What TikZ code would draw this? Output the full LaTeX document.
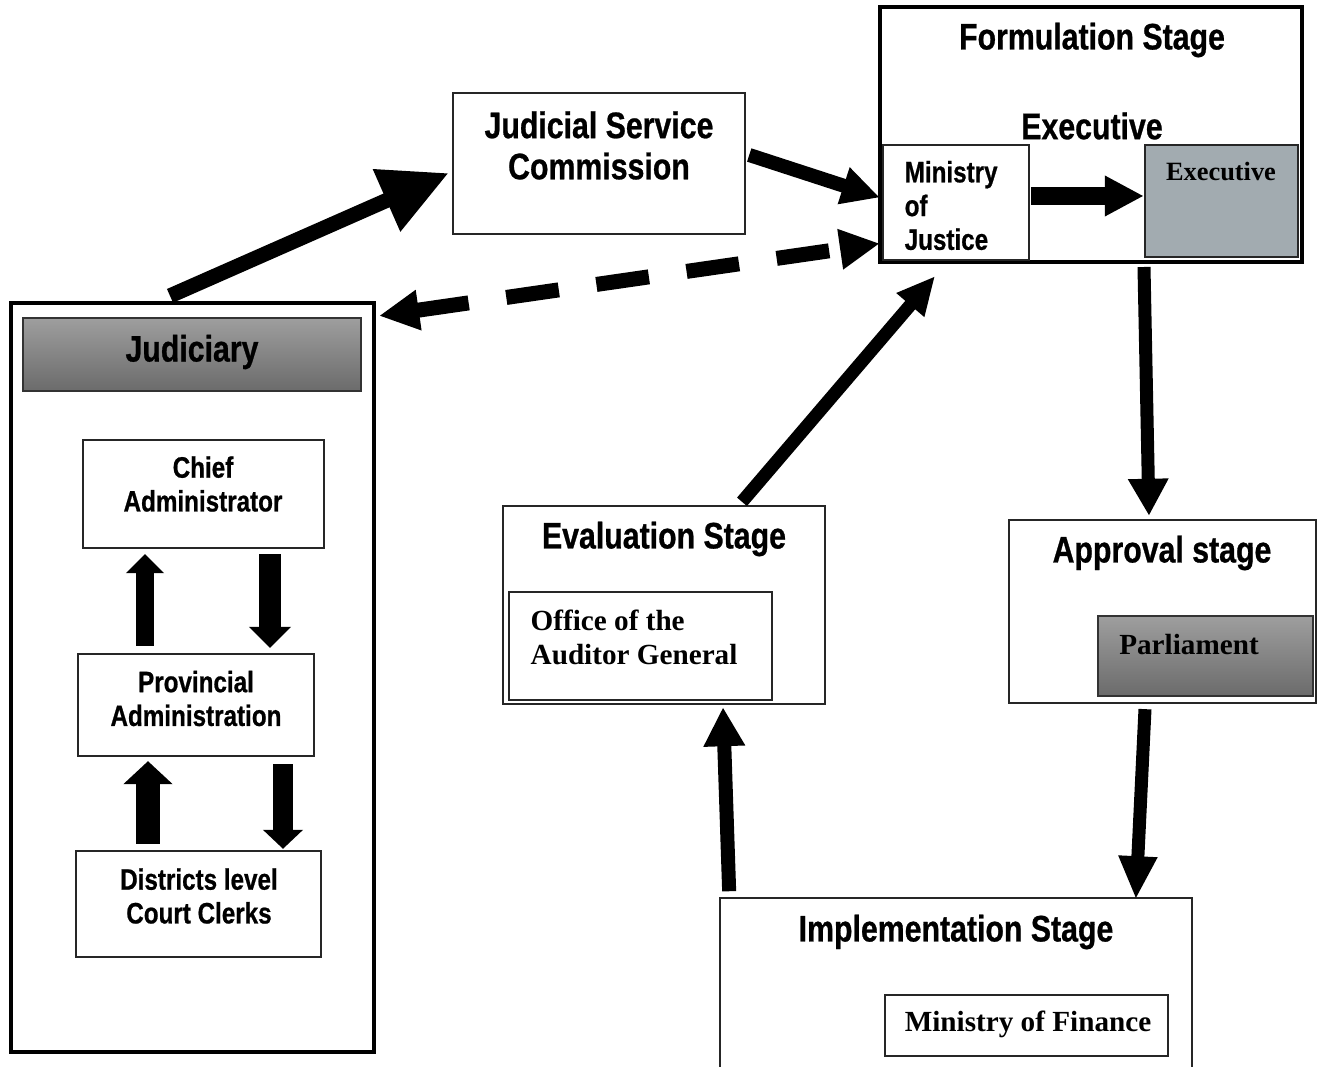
\documentclass[tikz,border=0pt]{standalone}
\usepackage{fontspec}
\setmainfont{Liberation Serif}
\newfontfamily\hs[FakeStretch=0.82, BoldFeatures={FakeBold=0.7}]{Liberation Sans}
\newfontfamily\ts{Liberation Serif}
\usetikzlibrary{arrows.meta,calc}
\definecolor{execgray}{HTML}{A2ABB0}
\tikzset{
  box/.style={draw=black!85, line width=0.65pt, inner sep=0pt, fill=white},
  thickbox/.style={draw=black, line width=1.1pt, inner sep=0pt},
  gradbox/.style={draw=black!80, line width=0.65pt, top color=black!38, bottom color=black!58, inner sep=0pt},
  headtxt/.style={font=\hs\bfseries\fontsize{10.5}{11.7}\selectfont, inner sep=0pt, align=center},
  smalltxt/.style={font=\hs\bfseries\fontsize{8.4}{9.6}\selectfont, inner sep=0pt, align=center},
  seriftxt/.style={font=\ts\bfseries\fontsize{8.3}{9.7}\selectfont, inner sep=0pt},
  conn/.style={draw=black, line width=#1},
}
\begin{document}
\begin{tikzpicture}[x=0.01cm, y=-0.01cm]
\useasboundingbox (0,0) rectangle (1317,1067);

% ---------- Judiciary ----------
\node[thickbox, minimum width=3.63cm, minimum height=7.49cm] (jud) at (192.5,677.5) {};
\node[gradbox, minimum width=3.38cm, minimum height=0.73cm] (judh) at (192,354.5) {};
\node[headtxt] (judt) at (192,352) {Judiciary};

\node[box, minimum width=2.41cm, minimum height=1.08cm] (chief) at (203.5,494) {};
\node[smalltxt] (chieft) at (203,484) {Chief\\Administrator};

\node[box, minimum width=2.36cm, minimum height=1.02cm] (prov) at (196,705) {};
\node[smalltxt] (provt) at (196,698.5) {Provincial\\Administration};

\node[box, minimum width=2.45cm, minimum height=1.06cm] (dist) at (198.5,904) {};
\node[smalltxt] (distt) at (199,896) {Districts level\\Court Clerks};

% ---------- Judicial Service Commission ----------
\node[box, minimum width=2.92cm, minimum height=1.41cm] (jsc) at (599,163.5) {};
\node[headtxt] (jsct) at (599,145.5) {Judicial Service\\Commission};

% ---------- Formulation ----------
\node[thickbox, minimum width=4.22cm, minimum height=2.55cm] (form) at (1091,134.5) {};
\node[headtxt] (formt) at (1092,40) {Formulation Stage};
\node[headtxt] (exect) at (1092,126) {Executive};
\node[box, minimum width=1.46cm, minimum height=1.15cm] (moj) at (956,202.5) {};
\node[smalltxt, align=left, anchor=west] (mojt) at (904,205.5) {Ministry\\of\\Justice};
\node[box, fill=execgray, minimum width=1.53cm, minimum height=1.12cm] (exec) at (1221.5,201) {};
\node[seriftxt, font=\ts\bfseries\fontsize{7.5}{9}\selectfont] (execb) at (1221,172) {Executive};

% ---------- Approval ----------
\node[box, minimum width=3.07cm, minimum height=1.83cm] (appr) at (1162.5,611.5) {};
\node[headtxt] (apprt) at (1162,553) {Approval stage};
\node[gradbox, minimum width=2.15cm, minimum height=0.80cm] (parl) at (1205.5,656) {};
\node[seriftxt] (parlt) at (1189,645) {Parliament};

% ---------- Evaluation ----------
\node[box, minimum width=3.22cm, minimum height=1.98cm] (eval) at (664,605) {};
\node[headtxt] (evalt) at (664,539) {Evaluation Stage};
\node[box, minimum width=2.63cm, minimum height=1.08cm] (oag) at (640.5,646) {};
\node[seriftxt, align=left, anchor=west] (oagt) at (530,637) {Office of the\\Auditor General};

% ---------- Implementation ----------
\node[inner sep=0pt, minimum width=4.70cm, minimum height=1.68cm] (impl) at (956,983) {};
\draw[black!85, line width=0.65pt] (impl.south west) -- (impl.north west) -- (impl.north east) -- (impl.south east);
\node[headtxt] (implt) at (956,932) {Implementation Stage};
\node[box, minimum width=2.83cm, minimum height=0.61cm] (mof) at (1026.5,1025.5) {};
\node[seriftxt] (moft) at (1028,1024) {Ministry of Finance};

% ---------- Connectors ----------
\draw[conn=0.15cm, -{Triangle[length=0.68cm,width=0.64cm]}]
  ($(jud.north)+(-22.5,-5)$) -- ($(jsc.west)+(-3,9.5)$);
\draw[conn=0.14cm, -{Triangle[length=0.38cm,width=0.36cm]}]
  ($(jsc.east)+(3,-8.5)$) -- ($(moj.west)+(-2,-5)$);
\draw[conn=0.15cm, dash pattern=on 0.53cm off 0.38cm,
  {Triangle[length=0.40cm,width=0.38cm]}-{Triangle[length=0.40cm,width=0.38cm]}]
  ($(jud.north east)+(3,15)$) -- ($(moj.west)+(-2,41)$);
\draw[conn=0.18cm, -{Triangle[length=0.39cm,width=0.38cm]}]
  ($(moj.east)+(1,-6.5)$) -- ($(exec.west)+(0,-5)$);
\draw[conn=0.13cm, -{Triangle[length=0.37cm,width=0.38cm]}]
  ($(form.south)+(53,3)$) -- ($(appr.north)+(-13.5,-3)$);
\draw[conn=0.13cm, -{Triangle[length=0.43cm,width=0.36cm]}]
  ($(parl.south)+(-60.5,12)$) -- ($(impl.north east)+(-56,1)$);
\draw[conn=0.14cm, -{Triangle[length=0.39cm,width=0.39cm]}]
  ($(impl.north west)+(9,-7)$) -- ($(eval.south)+(59,2)$);
\draw[conn=0.13cm, -{Triangle[length=0.38cm,width=0.34cm]}]
  ($(eval.north)+(78,-3)$) -- ($(moj.south)+(-21,15)$);

% inner judiciary arrows
\draw[conn=0.18cm, -{Triangle[length=0.19cm,width=0.37cm]}]
  ($(prov.north)+(-51,-7)$) -- ($(chief.south)+(-58.5,5)$);
\draw[conn=0.21cm, -{Triangle[length=0.21cm,width=0.41cm]}]
  ($(chief.south)+(66.5,5)$) -- ($(prov.north)+(74,-5)$);
\draw[conn=0.23cm, -{Triangle[length=0.23cm,width=0.48cm]}]
  ($(dist.north)+(-50.5,-6)$) -- ($(prov.south)+(-48,4)$);
\draw[conn=0.20cm, -{Triangle[length=0.19cm,width=0.39cm]}]
  ($(prov.south)+(87,7)$) -- ($(dist.north)+(84.5,-1)$);
\end{tikzpicture}
\end{document}
